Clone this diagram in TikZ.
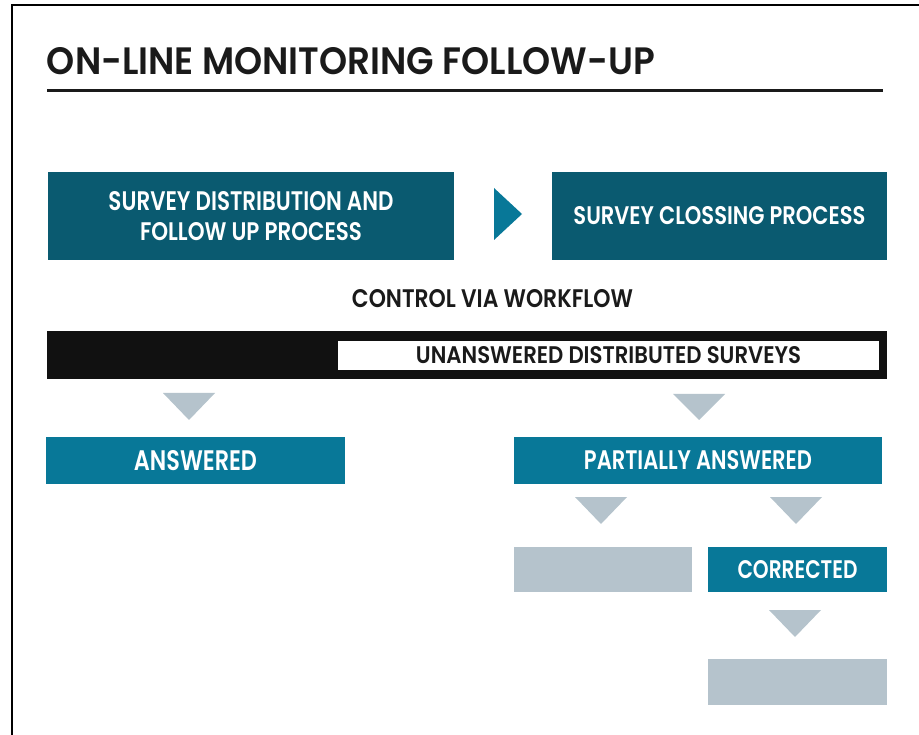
\documentclass[tikz,border=0pt]{standalone}
\usepackage{fontspec}
\usepackage{graphicx}
\newfontfamily\fut{Poppins}[BoldFont={Poppins SemiBold}]
\definecolor{darkteal}{RGB}{10,90,112}
\definecolor{lteal}{RGB}{8,120,152}
\definecolor{greybox}{RGB}{181,195,204}
\definecolor{barblack}{RGB}{17,17,17}
\definecolor{inkblack}{RGB}{26,26,26}
\newcommand{\fit}[3]{\resizebox{#1pt}{#2pt}{\fut\bfseries #3}}
\newcommand{\twolines}[3]{\vbox{\offinterlineskip\halign{\hfil##\hfil\cr #1\cr\noalign{\vskip #3}#2\cr}}}
\tikzset{
  pbox/.style={inner sep=0pt, outer sep=0pt, draw=none},
  darkbox/.style={pbox, fill=darkteal, text=white},
  lightbox/.style={pbox, fill=lteal, text=white},
  greyrect/.style={pbox, fill=greybox},
  marker/.style={fill=greybox},
  plain/.style={inner sep=0pt, outer sep=0pt, text=inkblack}
}
\begin{document}
\begin{tikzpicture}[x=1pt,y=-1pt]
\useasboundingbox (0,0) rectangle (919,735);
\fill[white] (0,0) rectangle (919,735);
% frame
\draw[line width=2.5pt, black] (919,5) -- (12,5) -- (12,735);
% title
\node[plain] (title) at (351,61.5) {\fit{608}{27}{ON-LINE MONITORING FOLLOW-UP}};
\draw[line width=3pt, inkblack] (47,90.5) -- (883,90.5);
% top process boxes
\node[darkbox, minimum width=406pt, minimum height=88pt] (dist) at (251,216)
  {\twolines{\fit{285}{19}{SURVEY DISTRIBUTION AND}}{\fit{222}{18}{FOLLOW UP PROCESS}}{11pt}};
\node[darkbox, minimum width=335pt, minimum height=88pt] (clos) at (719.5,216)
  {\fit{292}{18}{SURVEY CLOSSING PROCESS}};
\fill[lteal] (494,188) -- (522,214) -- (494,240) -- cycle;
% control
\node[plain] (ctrl) at (492.5,299) {\fit{281}{18}{CONTROL VIA WORKFLOW}};
\node[pbox, fill=barblack, minimum width=840pt, minimum height=48pt] (bar) at (467,355) {};
\node[pbox, fill=white, text=inkblack, minimum width=541pt, minimum height=29pt] (unans) at (608.5,355.5)
  {\fit{385}{17}{UNANSWERED DISTRIBUTED SURVEYS}};
% markers
\fill[marker] (163,393) -- (215,393) -- (189,420) -- cycle;
\fill[marker] (673,394) -- (725,394) -- (699,420) -- cycle;
% answered
\node[lightbox, minimum width=299pt, minimum height=47pt] (ans) at (195.5,460.5) {\fit{123}{20}{ANSWERED}};
\node[lightbox, minimum width=368pt, minimum height=47pt] (part) at (698,460.5) {\fit{228}{19}{PARTIALLY ANSWERED}};
\fill[marker] (575,497) -- (627,497) -- (601,524) -- cycle;
\fill[marker] (770,497) -- (822,497) -- (796,524) -- cycle;
\node[greyrect, minimum width=178pt, minimum height=45pt] (g1) at (602.5,569.5) {};
\node[lightbox, minimum width=179pt, minimum height=45pt] (corr) at (797.5,569.5) {\fit{120}{18}{CORRECTED}};
\fill[marker] (769,610) -- (821,610) -- (795,637) -- cycle;
\node[greyrect, minimum width=179pt, minimum height=46pt] (g2) at (797.5,682) {};
\end{tikzpicture}
\end{document}
